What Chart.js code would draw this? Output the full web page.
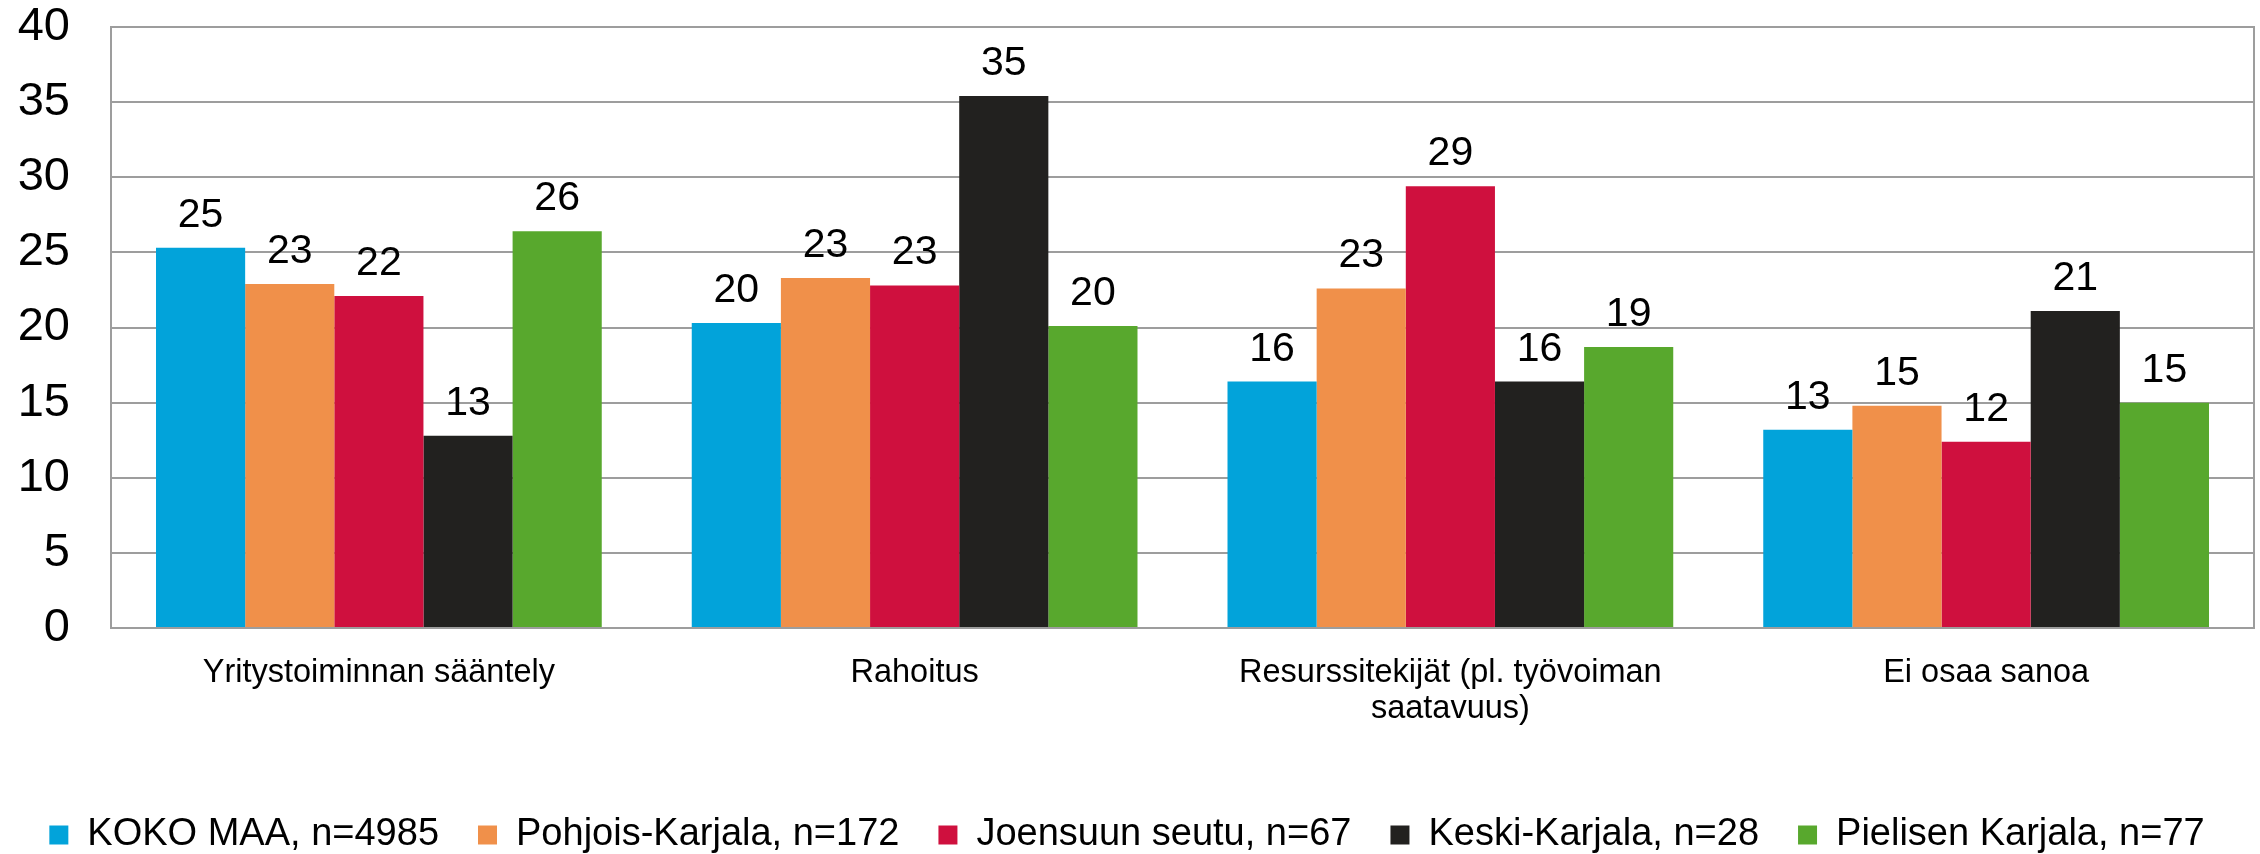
<!DOCTYPE html>
<html>
<head>
<meta charset="utf-8">
<script src="https://cdn.jsdelivr.net/npm/chart.js@4/dist/chart.umd.min.js"></script>
<style>
  html, body { margin: 0; padding: 0; background: #fff; }
  canvas { display: block; }
</style>
</head>
<body>
<canvas id="chart" width="2260" height="854"></canvas>
<script>
// categories (the third one wraps onto two lines)
const categories = [
  'Yritystoiminnan sääntely',
  'Rahoitus',
  ['Resurssitekijät (pl. työvoiman', 'saatavuus)'],
  'Ei osaa sanoa'
];

const seriesNames = [
  'KOKO MAA, n=4985',
  'Pohjois-Karjala, n=172',
  'Joensuun seutu, n=67',
  'Keski-Karjala, n=28',
  'Pielisen Karjala, n=77'
];

const kokoMaa = [25.3, 20.3, 16.4, 13.2];
const pohjoisKarjala = [22.9, 23.3, 22.6, 14.8];
const joensuunSeutu = [22.1, 22.8, 29.4, 12.4];
const keskiKarjala = [12.8, 35.4, 16.4, 21.1];
const pielisenKarjala = [26.4, 20.1, 18.7, 15.0];

const yTicks = [0, 5, 10, 15, 20, 25, 30, 35, 40];

const colors = ['#02a3da', '#f0904a', '#cf103e', '#22211f', '#58a82d'];
const FONT = "'Liberation Sans', Arial, sans-serif";

const seriesValues = [kokoMaa, pohjoisKarjala, joensuunSeutu, keskiKarjala, pielisenKarjala];

// value labels above each bar
const valueLabels = {
  id: 'valueLabels',
  afterDatasetsDraw(chart) {
    const ctx = chart.ctx;
    ctx.save();
    ctx.font = '41px ' + FONT;
    ctx.fillStyle = '#000';
    ctx.textAlign = 'center';
    ctx.textBaseline = 'alphabetic';
    chart.data.datasets.forEach((ds, i) => {
      const meta = chart.getDatasetMeta(i);
      meta.data.forEach((bar, j) => {
        ctx.fillText(String(Math.round(ds.data[j])), bar.x, bar.y - 21);
      });
    });
    ctx.restore();
  }
};

new Chart(document.getElementById('chart').getContext('2d'), {
  type: 'bar',
  data: {
    labels: categories,
    datasets: seriesValues.map((vals, i) => ({
      label: seriesNames[i],
      data: vals,
      backgroundColor: colors[i],
      borderWidth: 0,
      categoryPercentage: 0.832,
      barPercentage: 1.0
    }))
  },
  options: {
    responsive: false,
    animation: false,
    devicePixelRatio: 1,
    layout: {
      padding: { top: 27, right: 6, left: 0, bottom: -10 }
    },
    plugins: {
      tooltip: { enabled: false },
      legend: {
        position: 'bottom',
        labels: {
          color: '#000',
          font: { family: FONT, size: 38 },
          boxWidth: 19,
          boxHeight: 19,
          padding: 39
        }
      }
    },
    scales: {
      x: {
        grid: { display: false, drawTicks: false },
        border: { display: true, color: '#9d9d9d', width: 2 },
        ticks: {
          color: '#000',
          font: { family: FONT, size: 32.5, lineHeight: 1.1 },
          padding: 27,
          maxRotation: 0,
          autoSkip: false
        },
        afterFit(scale) { scale.height = 149; }
      },
      y: {
        min: 0,
        max: 40,
        afterBuildTicks(scale) { scale.ticks = yTicks.map(v => ({ value: v })); },
        // invisible tick marks push the labels away from the axis
        grid: { color: '#9d9d9d', lineWidth: 2, drawTicks: true, tickLength: 41, tickColor: 'rgba(0,0,0,0)' },
        border: { display: true, color: '#9d9d9d', width: 2 },
        ticks: {
          color: '#000',
          font: { family: FONT, size: 47, lineHeight: 1.0 },
          padding: 0
        },
        afterFit(scale) { scale.width = 111; }
      },
      y2: {
        position: 'right',
        min: 0,
        max: 40,
        grid: { display: false, drawTicks: false },
        border: { display: true, color: '#9d9d9d', width: 2 },
        ticks: { display: false },
        afterFit(scale) { scale.width = 0; }
      }
    }
  },
  plugins: [valueLabels]
});
</script>
</body>
</html>
